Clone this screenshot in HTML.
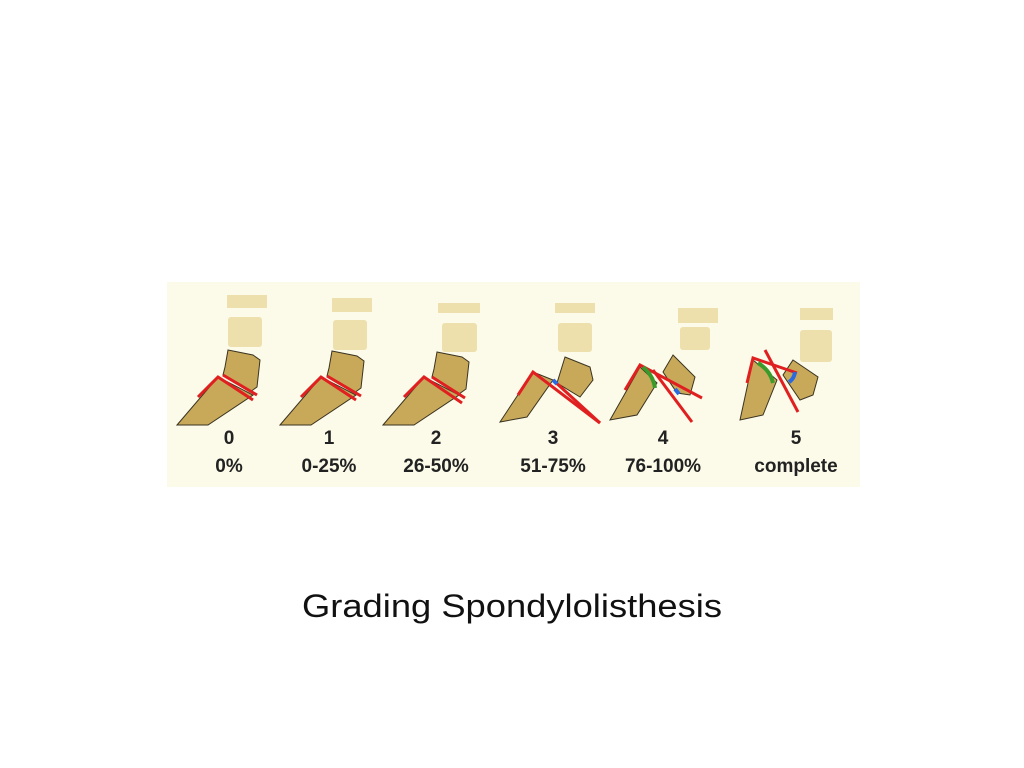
<!DOCTYPE html>
<html><head><meta charset="utf-8"><style>
html,body{margin:0;padding:0;background:#fff;width:1024px;height:768px;overflow:hidden}
svg{position:absolute;left:0;top:0}
.t{font-family:"Liberation Sans",sans-serif;font-weight:bold;font-size:19px;fill:#222;text-anchor:middle}
</style></head><body>
<svg width="1024" height="768">
<rect x="167" y="282" width="693" height="205" fill="#fcfae8"/>
<g fill="#eee0ad">
<rect x="227" y="295" width="40" height="13"/><rect x="228" y="317" width="34" height="30" rx="3"/>
<rect x="332" y="298" width="40" height="14"/><rect x="333" y="320" width="34" height="30" rx="3"/>
<rect x="438" y="303" width="42" height="10"/><rect x="442" y="323" width="35" height="29" rx="3"/>
<rect x="555" y="303" width="40" height="10"/><rect x="558" y="323" width="34" height="29" rx="3"/>
<rect x="678" y="308" width="40" height="15"/><rect x="680" y="327" width="30" height="23" rx="3"/>
<rect x="800" y="308" width="33" height="12"/><rect x="800" y="330" width="32" height="32" rx="3"/>
</g>
<g fill="#c8a95a" stroke="#3a3320" stroke-width="1">
<polygon points="177,425 218,377 253,395 208,425"/>
<polygon points="228,350 253,355 260,360 257,387 250,392 223,375 225,367"/>
<polygon points="280,425 321,377 356,395 311,425"/>
<polygon points="332,351 357,356 364,361 361,388 354,393 327,376 329,368"/>
<polygon points="383,425 424,377 459,395 414,425"/>
<polygon points="437,352 462,357 469,362 466,389 459,394 432,377 434,369"/>
<polygon points="500,422 533,372 553,380 527,417"/>
<polygon points="565,357 590,367 593,380 580,397 557,383"/>
<polygon points="610,420 640,367 657,383 637,415"/>
<polygon points="673,355 695,377 690,395 677,393 663,372"/>
<polygon points="740,420 753,360 777,380 763,415"/>
<polygon points="793,360 818,377 813,395 800,400 783,375"/>
</g>
<g stroke="#e02020" stroke-width="3" fill="none">
<polyline points="198,397 218,377 253,400"/><line x1="223" y1="375" x2="257" y2="395"/>
<polyline points="301,397 321,377 356,400"/><line x1="327" y1="376" x2="361" y2="396"/>
<polyline points="404,397 424,377 462,403"/><line x1="432" y1="377" x2="465" y2="398"/>
<polyline points="518,395 533,372 600,423"/><line x1="553" y1="380" x2="600" y2="423"/>
<polyline points="625,390 640,365 702,398"/><line x1="653" y1="370" x2="692" y2="422"/>
<polyline points="747,383 753,358 797,373"/><line x1="765" y1="350" x2="798" y2="412"/>
</g>
<g fill="none" stroke-width="4">
<path d="M643 367 Q653 375 655 388" stroke="#3a9a2a"/>
<path d="M758 363 Q770 370 773 383" stroke="#3a9a2a"/>
<path d="M553 380 L557 384" stroke="#2a6ae0"/>
<path d="M675 389 L679 394" stroke="#2a6ae0"/>
<path d="M795 372 Q794 379 789 382" stroke="#2a6ae0"/>
</g>
<g>
<text class="t" x="229" y="444">0</text><text class="t" x="229" y="472">0%</text>
<text class="t" x="329" y="444">1</text><text class="t" x="329" y="472">0-25%</text>
<text class="t" x="436" y="444">2</text><text class="t" x="436" y="472">26-50%</text>
<text class="t" x="553" y="444">3</text><text class="t" x="553" y="472">51-75%</text>
<text class="t" x="663" y="444">4</text><text class="t" x="663" y="472">76-100%</text>
<text class="t" x="796" y="444">5</text><text class="t" x="796" y="472">complete</text>
</g>
<text x="302" y="617" textLength="420" lengthAdjust="spacingAndGlyphs" font-family="Liberation Sans, sans-serif" font-size="32" fill="#111">Grading Spondylolisthesis</text>
</svg>
</body></html>
